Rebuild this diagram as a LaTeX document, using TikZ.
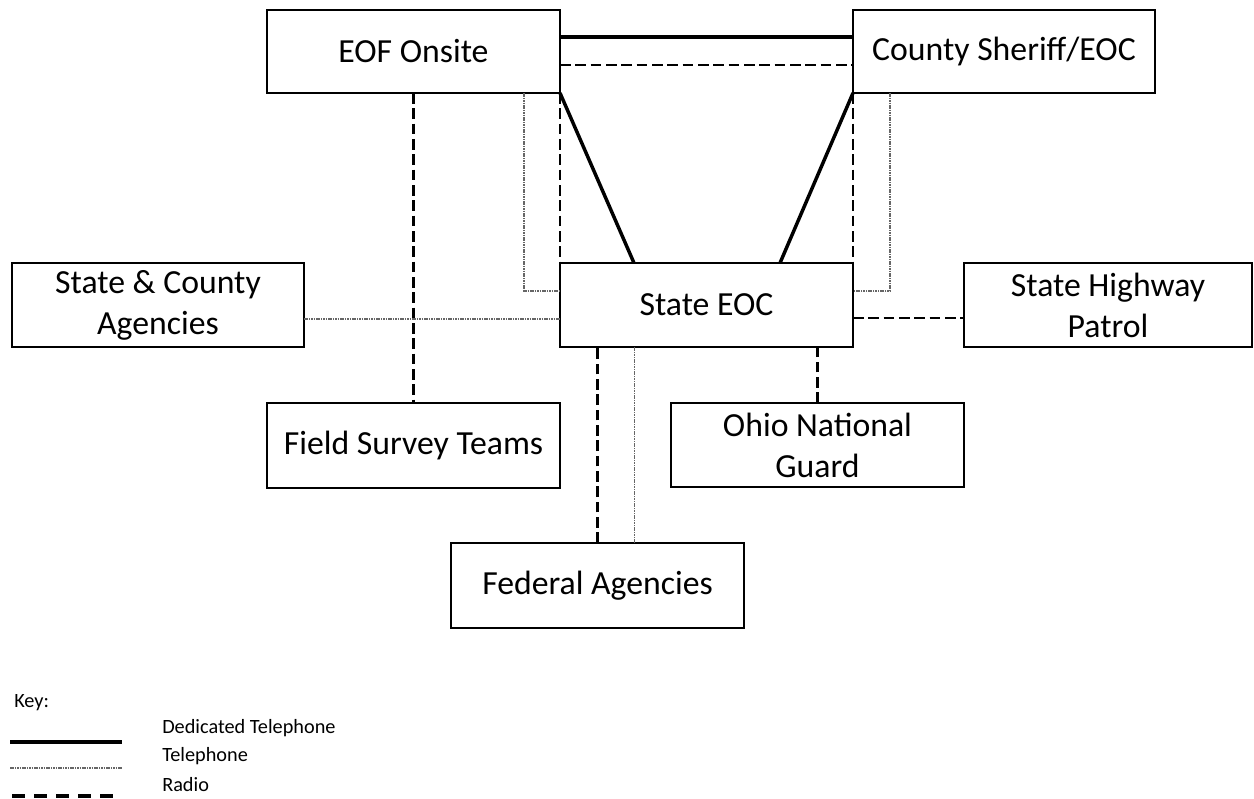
\documentclass[tikz,border=0pt]{standalone}
\usepackage{fontspec}
\setmainfont{Carlito}
\usetikzlibrary{calc}
\begin{document}
\begin{tikzpicture}[x=0.75pt,y=-0.75pt,
  box/.style={draw, line width=1.3pt, inner sep=0pt, outer sep=0pt, align=center,
    anchor=north west, minimum width=219.75pt, minimum height=63pt,
    font=\fontsize{25.3}{30.8}\selectfont},
  dedicated/.style={line width=2.6pt},
  radio/.style={line width=2.2pt, dash pattern=on 8pt off 3.5pt},
  telephone/.style={draw=black!60, line width=1.4pt, dash pattern=on 1.2pt off 0.6pt},
  keytext/.style={anchor=west, inner sep=0pt, font=\fontsize{15.2}{18}\selectfont}]
\useasboundingbox (0,0) rectangle (1254,799);

% boxes
\node[box, minimum height=62.25pt] (eof) at (267,10) {EOF Onsite};
\node[box, minimum height=62.25pt, minimum width=226.5pt] (county) at (853,10) {County Sheriff/EOC};
\node[box] (seoc) at (560,263) {State EOC};
\node[box, minimum width=219pt] (sca) at (12,263) {State \& County\\Agencies};
\node[box, minimum width=216pt] (shp) at (964,263) {State Highway\\Patrol};
\node[box, minimum height=63.75pt] (fst) at (267,403) {Field Survey Teams};
\node[box] (ong) at (671,403) {Ohio National\\Guard};
\node[box, minimum height=63.75pt] (fed) at (451,543) {Federal Agencies};

% EOF <-> County
\draw[dedicated] ($(eof.north east)+(0,27)$) -- ($(county.north west)+(0,27)$);
\draw[radio] ($(eof.north east)+(0,55)$) -- ($(county.north west)+(0,55)$);

% EOF <-> State EOC
\draw[dedicated] (eof.south east) -- ($(seoc.north west)+(74,0)$);
\draw[radio] (eof.south east) -- (seoc.north west);
\draw[telephone] ($(eof.south east)+(-36,0)$) |- ($(seoc.north west)+(0,28)$);

% County <-> State EOC
\draw[dedicated] (county.south west) -- ($(seoc.north east)+(-73,0)$);
\draw[radio] (county.south west) -- (seoc.north east);
\draw[telephone] ($(county.south west)+(37,0)$) |- ($(seoc.north east)+(0,28)$);

% EOF <-> Field Survey Teams
\draw[radio] (eof.south) -- (fst.north);

% State & County Agencies <-> State EOC
\draw[telephone] ($(sca.east)+(0,14)$) -- ($(seoc.west)+(0,14)$);

% State EOC <-> Highway Patrol
\draw[radio] ($(seoc.east)+(0,13)$) -- ($(shp.west)+(0,13)$);

% State EOC <-> Ohio National Guard
\draw[radio] (ong.north) -- (ong.north |- seoc.south);

% State EOC <-> Federal
\draw[radio] (fed.north) -- (fed.north |- seoc.south);
\draw[telephone] ($(fed.north)+(37,0)$) -- ($(fed.north |- seoc.south)+(37,0)$);

% Key
\node[keytext] (key) at (14,703) {Key:};
\coordinate (k1a) at (10,742); \coordinate (k1b) at (122,742);
\coordinate (k2a) at (10,768); \coordinate (k2b) at (122,768);
\coordinate (k3a) at (12,796); \coordinate (k3b) at (122,796);
\draw[line width=3pt] (k1a) -- (k1b);
\draw[draw=black!60, line width=1.6pt, dash pattern=on 1.2pt off 0.6pt] (k2a) -- (k2b);
\draw[line width=2.4pt, dash pattern=on 9.75pt off 6.75pt] (k3a) -- (k3b);
\node[keytext] (t1) at (162,728) {Dedicated Telephone};
\node[keytext] (t2) at (162,756) {Telephone};
\node[keytext] (t3) at (162,785) {Radio};
\end{tikzpicture}
\end{document}
